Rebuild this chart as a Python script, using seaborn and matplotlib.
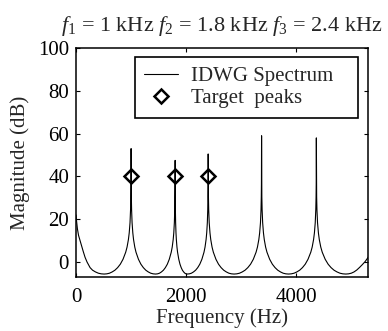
import matplotlib
matplotlib.use("Agg")
import matplotlib.pyplot as plt
import seaborn as sns
import pandas as pd

# ---- data ----
# spectrum curve, lobe by lobe (frequency in Hz, magnitude in dB)
lobe0_f = [0, 10, 25, 45, 73, 100, 130, 164, 200, 255, 300, 352, 405, 457, 510]
lobe0_m = [22, 19, 15.5, 12.5, 10, 7.5, 5, 2.2, 0, -2.6, -3.8, -4.6, -5.2, -5.5, -5.6]

peak1_f = [559, 608, 657, 706, 755, 804, 853, 902, 926.5, 951, 965.7, 980.4, 990.2, 995.1, 997.6,
           1000,
           1002.2, 1004.5, 1008.9, 1017.8, 1031.2, 1044.5, 1066.8, 1089, 1133.5, 1178, 1222.5,
           1267, 1311.5, 1356, 1400.5, 1445]
peak1_m = [-5.5, -5.2, -4.6, -3.8, -2.6, -1.0, 1.3, 4.6, 7.0, 10.5, 13.6, 18.4, 24.5, 30.5, 36.5,
           53,
           36.5, 30.5, 24.5, 18.4, 13.6, 10.5, 7.0, 4.6, 1.3, -1.0, -2.6,
           -3.8, -4.6, -5.2, -5.5, -5.6]

peak2_f = [1480.5, 1516, 1551.5, 1587, 1622.5, 1658, 1693.5, 1729, 1746.8, 1764.5, 1775.2, 1785.8,
           1792.9, 1796.5, 1798.2,
           1800,
           1801.1, 1802.2, 1804.4, 1808.8, 1815.4, 1822, 1833, 1844, 1866, 1888, 1910, 1932, 1954,
           1976, 1998, 2020]
peak2_m = [-5.5, -5.2, -4.6, -3.8, -2.6, -1.0, 1.3, 4.6, 7.0, 10.5, 13.6, 18.4, 24.5, 30.5, 36.5,
           47.5,
           36.5, 30.5, 24.5, 18.4, 13.6, 10.5, 7.0, 4.6, 1.3, -1.0, -2.6, -3.8, -4.6,
           -5.2, -5.5, -5.6]

peak3_f = [2058, 2096, 2134, 2172, 2210, 2248, 2286, 2324, 2343, 2362, 2373.4, 2384.8, 2392.4,
           2396.2, 2398.1,
           2400,
           2402.4, 2404.7, 2409.4, 2418.8, 2432.9, 2447, 2470.5, 2494, 2541, 2588, 2635, 2682,
           2729, 2776, 2823, 2870]
peak3_m = [-5.5, -5.2, -4.6, -3.8, -2.6, -1.0, 1.3, 4.6, 7.0, 10.5, 13.6, 18.4, 24.5,
           30.5, 36.5,
           50.5,
           36.5, 30.5, 24.5, 18.4, 13.6, 10.5, 7.0, 4.6, 1.3, -1.0, -2.6, -3.8,
           -4.6, -5.2, -5.5, -5.6]

peak4_f = [2920, 2970, 3020, 3070, 3120, 3170, 3220, 3270, 3295, 3320, 3335, 3350, 3360, 3365,
           3367.5,
           3370,
           3372.5, 3374.9, 3379.8, 3389.6, 3404.3, 3419, 3443.5, 3468, 3517, 3566, 3615, 3664,
           3713, 3762, 3811, 3860]
peak4_m = [-5.5, -5.2, -4.6, -3.8, -2.6, -1.0, 1.3, 4.6, 7.0, 10.5, 13.6, 18.4, 24.5, 30.5,
           36.5,
           59,
           36.5, 30.5, 24.5, 18.4, 13.6, 10.5, 7.0, 4.6, 1.3, -1.0, -2.6, -3.8,
           -4.6, -5.2, -5.5, -5.6]

peak5_f = [3910.5, 3961, 4011.5, 4062, 4112.5, 4163, 4213.5, 4264, 4289.3, 4314.5, 4329.7, 4344.8,
           4354.9, 4360, 4362.5,
           4365,
           4367.7, 4370.4, 4375.7, 4386.4, 4402.5, 4418.5, 4445.3, 4472, 4525.5, 4579, 4632.5,
           4686, 4739.5, 4793, 4846.5, 4900]
peak5_m = [-5.5, -5.2, -4.6, -3.8, -2.6, -1.0, 1.3, 4.6, 7.0, 10.5, 13.6, 18.4,
           24.5, 30.5, 36.5,
           58,
           36.5, 30.5, 24.5, 18.4, 13.6, 10.5, 7.0, 4.6, 1.3, -1.0, -2.6,
           -3.8, -4.6, -5.2, -5.5, -5.6]

tail_f = [4950, 5000, 5050, 5100, 5150, 5200, 5250, 5300, 5330]
tail_m = [-5.5, -5.2, -4.6, -3.7, -2.5, -1.2, 0.2, 2.0, 3.2]

# target peaks
target_f = [1000, 1800, 2400]
target_m = [40, 40, 40]

x_ticks = [0, 2000, 4000]
y_ticks = [0, 20, 40, 60, 80, 100]

# ---- build table ----
spec_f = lobe0_f + peak1_f + peak2_f + peak3_f + peak4_f + peak5_f + tail_f
spec_m = lobe0_m + peak1_m + peak2_m + peak3_m + peak4_m + peak5_m + tail_m
spec = pd.DataFrame({"Frequency (Hz)": spec_f, "Magnitude (dB)": spec_m})
targets = pd.DataFrame({"Frequency (Hz)": target_f, "Magnitude (dB)": target_m})

sns.set_style("ticks")
plt.rcParams["font.family"] = ["Liberation Serif", "DejaVu Serif"]
plt.rcParams["mathtext.fontset"] = "custom"
plt.rcParams["mathtext.rm"] = "Liberation Serif"
plt.rcParams["mathtext.it"] = "Liberation Serif:italic"

fig = plt.figure(figsize=(3.88, 3.31), dpi=100)
ax = fig.add_axes([0.196, 0.163, 0.752, 0.692])

sns.lineplot(data=spec, x="Frequency (Hz)", y="Magnitude (dB)", ax=ax, sort=False,
             estimator=None, color="black", linewidth=0.8,
             label="IDWG Spectrum\u00a0\u00a0\u00a0")
sns.lineplot(data=targets, x="Frequency (Hz)", y="Magnitude (dB)", ax=ax, sort=False,
             estimator=None, linestyle="", marker="D", markersize=7.5,
             markerfacecolor="none", markeredgecolor="black", markeredgewidth=1.8,
             color="black", label="Target  peaks")

ax.set_xlim(0, 5300)
ax.set_ylim(-7, 100)
ax.set_xticks(x_ticks)
ax.set_yticks(y_ticks)
ax.tick_params(direction="in", length=3, width=0.8, top=True, right=True,
               labelsize=15, colors="black")
ax.tick_params(axis="x", pad=8)
ax.tick_params(axis="y", pad=5)
for s in ax.spines.values():
    s.set_linewidth(1.1)
    s.set_color("black")
    s.set_visible(True)

ax.set_xlabel("Frequency (Hz)", fontsize=15, labelpad=1)
ax.set_ylabel("Magnitude (dB)", fontsize=15, labelpad=6)
ax.set_title(r"$f_1$ = 1 kHz $f_2$ = 1.8 kHz $f_3$ = 2.4 kHz", fontsize=16, pad=12)

leg = ax.legend(loc="upper right", fontsize=15, fancybox=False, frameon=True,
                handlelength=1.6, borderpad=0.45, labelspacing=0.12, handletextpad=0.65,
                borderaxespad=0.45)
leg.get_frame().set_edgecolor("black")
leg.get_frame().set_linewidth(1.2)
leg.get_frame().set_alpha(1)

fig.savefig("out.png", dpi=100)
